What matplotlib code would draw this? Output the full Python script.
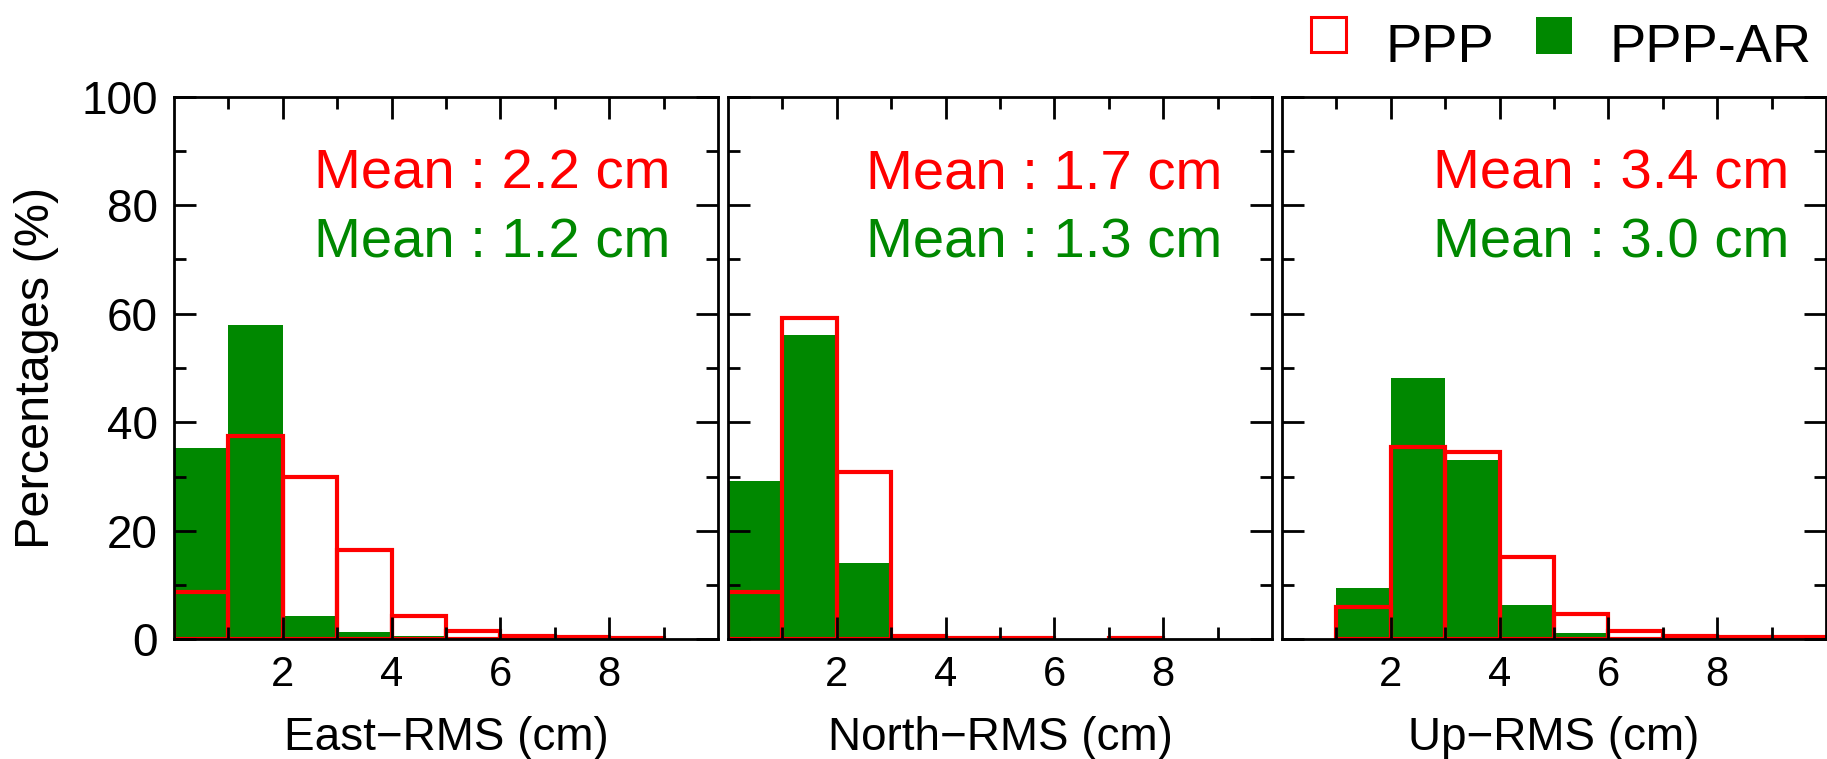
import matplotlib
matplotlib.use('Agg')
import matplotlib.pyplot as plt
import numpy as np
from matplotlib.patches import Rectangle
from matplotlib.ticker import FixedLocator

plt.rcParams['font.family'] = ['Liberation Sans', 'DejaVu Sans']

# ---- data (percentages per 1-cm bin, bins 0-1 ... 9-10) ----
bin_left = [0, 1, 2, 3, 4, 5, 6, 7, 8, 9]

east_ppp = [8.7, 37.5, 29.9, 16.5, 4.4, 1.5, 0.6, 0.4, 0.3, 0.0]
east_ar = [35.2, 57.9, 4.4, 1.4, 0.7, 0.0, 0.0, 0.0, 0.0, 0.0]

north_ppp = [8.8, 59.2, 30.9, 0.7, 0.3, 0.3, 0.0, 0.2, 0.0, 0.0]
north_ar = [29.2, 56.0, 14.0, 0.0, 0.0, 0.0, 0.0, 0.0, 0.0, 0.0]

up_ppp = [0.0, 5.9, 35.4, 34.6, 15.1, 4.6, 1.6, 0.6, 0.5, 0.5]
up_ar = [0.0, 9.5, 48.1, 33.1, 6.3, 1.2, 0.0, 0.0, 0.0, 0.0]

xlabels = ['East\u2212RMS (cm)', 'North\u2212RMS (cm)', 'Up\u2212RMS (cm)']
mean_ppp = ['2.2', '1.7', '3.4']
mean_ar = ['1.2', '1.3', '3.0']
series_names = ['PPP', 'PPP-AR']
x_ticks = [2, 4, 6, 8]
y_ticks = [0, 20, 40, 60, 80, 100]

RED = '#FF0000'
GREEN = '#008800'

W, H = 1827, 759
fig = plt.figure(figsize=(W / 100, H / 100), dpi=100)

ax_lefts = [174, 728, 1282]
ax_w = 544
ax_top, ax_bot = 96.6, 639.4
text_x = [0.257, 0.253, 0.278]

ppp_all = [east_ppp, north_ppp, up_ppp]
ar_all = [east_ar, north_ar, up_ar]

for i in range(3):
    ax = fig.add_axes([ax_lefts[i] / W, (H - ax_bot) / H, ax_w / W, (ax_bot - ax_top) / H])
    xl = np.array(bin_left, dtype=float)
    ar = np.array(ar_all[i])
    pp = np.array(ppp_all[i])
    m = ar > 0
    ax.bar(xl[m], ar[m], width=1.0, align='edge', color=GREEN, linewidth=0, zorder=1)
    m = pp > 0
    ax.bar(xl[m], pp[m], width=1.0, align='edge', fill=False, edgecolor=RED,
           linewidth=3.0, zorder=1.5)
    ax.set_xlim(0, 10)
    ax.set_ylim(0, 100)
    ax.xaxis.set_major_locator(FixedLocator(x_ticks))
    ax.xaxis.set_minor_locator(FixedLocator([1, 3, 5, 7, 9]))
    ax.yaxis.set_major_locator(FixedLocator(y_ticks))
    ax.yaxis.set_minor_locator(FixedLocator([10, 30, 50, 70, 90]))
    ax.tick_params(which='both', direction='in', top=True, right=True, width=2.0)
    ax.tick_params(which='major', length=15.8)
    ax.tick_params(which='minor', length=8.6)
    ax.tick_params(axis='x', labelsize=30, pad=11)
    ax.tick_params(axis='y', labelsize=33, pad=11.5)
    for s in ax.spines.values():
        s.set_linewidth(2.0)
    if i > 0:
        ax.tick_params(axis='y', labelleft=False)
    else:
        ax.set_ylabel('Percentages (%)', fontsize=35, labelpad=16)
    ax.set_xlabel(xlabels[i], fontsize=33, labelpad=15)
    ax.text(text_x[i], 0.830, 'Mean : %s cm' % mean_ppp[i], color=RED, fontsize=40.5,
            transform=ax.transAxes, ha='left', va='baseline')
    ax.text(text_x[i], 0.703, 'Mean : %s cm' % mean_ar[i], color=GREEN, fontsize=40.5,
            transform=ax.transAxes, ha='left', va='baseline')

# ---- legend (figure coords) ----
fig.patches.append(Rectangle((1310.5 / W, (H - 51.5) / H), 35 / W, 35 / H,
                             transform=fig.transFigure, fill=False, edgecolor=RED,
                             linewidth=2.2))
fig.text(1386 / W, (H - 61.7) / H, series_names[0], fontsize=39, ha='left', va='baseline')
fig.patches.append(Rectangle((1536 / W, (H - 54) / H), 36 / W, 37 / H,
                             transform=fig.transFigure, facecolor=GREEN, edgecolor='none'))
fig.text(1610 / W, (H - 61.7) / H, series_names[1], fontsize=39, ha='left', va='baseline')

fig.savefig('out.png', dpi=100)
